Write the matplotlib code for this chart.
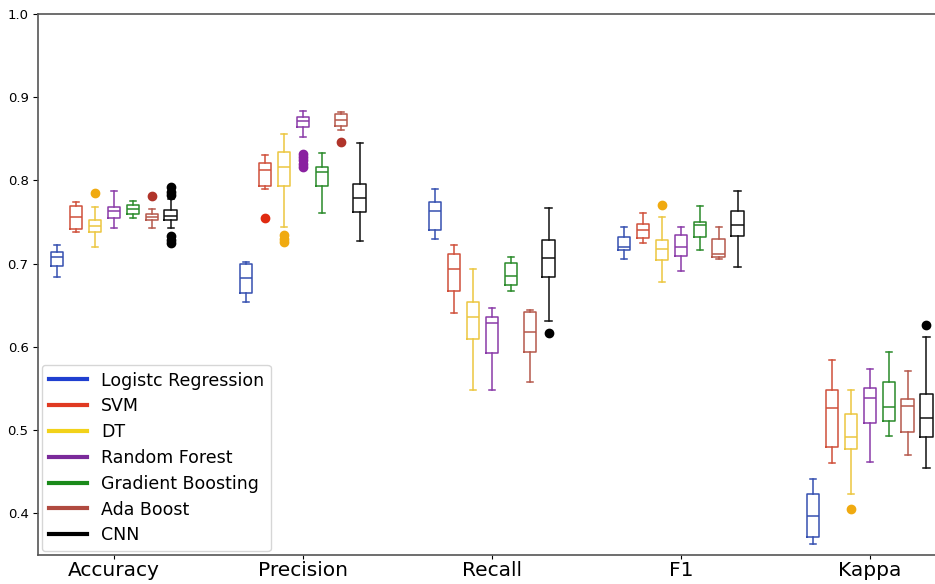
import numpy as np
import matplotlib
matplotlib.use("Agg")
import matplotlib.pyplot as plt
from matplotlib.lines import Line2D

# ---------------------------------------------------------------------------
# DATA (box statistics)
# order of each list: Accuracy, Precision, Recall, F1, Kappa
# each entry: (whislo, q1, med, q3, whishi)
# ---------------------------------------------------------------------------

metrics = ["Accuracy", "Precision", "Recall", "F1", "Kappa"]
models = ["Logistc Regression", "SVM", "DT", "Random Forest",
          "Gradient Boosting", "Ada Boost", "CNN"]

lr_stats = [(0.684, 0.697, 0.708, 0.714, 0.722),
            (0.654, 0.665, 0.683, 0.700, 0.702),
            (0.730, 0.740, 0.763, 0.774, 0.790),
            (0.706, 0.716, 0.720, 0.732, 0.744),
            (0.363, 0.371, 0.397, 0.423, 0.441)]
svm_stats = [(0.738, 0.741, 0.756, 0.769, 0.774),
             (0.790, 0.793, 0.813, 0.821, 0.831),
             (0.641, 0.667, 0.694, 0.712, 0.722),
             (0.725, 0.731, 0.740, 0.748, 0.761),
             (0.460, 0.480, 0.526, 0.548, 0.584)]
dt_stats = [(0.720, 0.738, 0.745, 0.753, 0.768),
            (0.744, 0.793, 0.816, 0.834, 0.856),
            (0.548, 0.609, 0.636, 0.654, 0.694),
            (0.678, 0.704, 0.718, 0.728, 0.756),
            (0.423, 0.477, 0.492, 0.519, 0.548)]
rf_stats = [(0.743, 0.755, 0.763, 0.768, 0.787),
            (0.852, 0.864, 0.871, 0.876, 0.883),
            (0.548, 0.593, 0.629, 0.636, 0.647),
            (0.691, 0.709, 0.720, 0.734, 0.744),
            (0.462, 0.508, 0.539, 0.550, 0.573)]
gb_stats = [(0.755, 0.760, 0.766, 0.770, 0.775),
            (0.761, 0.793, 0.810, 0.816, 0.833),
            (0.667, 0.674, 0.685, 0.701, 0.708),
            (0.716, 0.732, 0.746, 0.750, 0.769),
            (0.493, 0.511, 0.528, 0.558, 0.594)]
ada_stats = [(0.743, 0.752, 0.756, 0.760, 0.766),
             (0.861, 0.865, 0.873, 0.880, 0.882),
             (0.558, 0.594, 0.618, 0.642, 0.644),
             (0.706, 0.708, 0.712, 0.730, 0.744),
             (0.470, 0.498, 0.529, 0.537, 0.571)]
cnn_stats = [(0.743, 0.752, 0.757, 0.764, 0.778),
             (0.727, 0.762, 0.779, 0.796, 0.845),
             (0.631, 0.684, 0.707, 0.728, 0.767),
             (0.696, 0.733, 0.746, 0.763, 0.787),
             (0.454, 0.492, 0.514, 0.543, 0.612)]

# outliers per model, per metric
lr_fliers = [[], [], [], [], []]
svm_fliers = [[], [0.755], [], [], []]
dt_fliers = [[0.785], [0.734, 0.730, 0.726], [], [0.770], [0.405]]
rf_fliers = [[], [0.832, 0.828, 0.824, 0.820, 0.816], [], [], []]
gb_fliers = [[], [], [], [], []]
ada_fliers = [[0.781], [0.846], [], [], []]
cnn_fliers = [[0.792, 0.786, 0.782, 0.733, 0.728, 0.725], [], [0.617], [], [0.626]]

all_stats = [lr_stats, svm_stats, dt_stats, rf_stats, gb_stats, ada_stats, cnn_stats]
all_fliers = [lr_fliers, svm_fliers, dt_fliers, rf_fliers, gb_fliers, ada_fliers, cnn_fliers]

box_colors = ["#3550b0", "#d0503a", "#ecc640", "#8a3aa8", "#2a8a2a", "#b5584c", "#111111"]
flier_colors = ["#3550b0", "#e02a10", "#f0aa10", "#8a20a0", "#2a8a2a", "#b0342a", "#000000"]
legend_colors = ["#1f3fd0", "#e03a22", "#f2d21a", "#7a2a9a", "#1a8a1a", "#b04a40", "#000000"]

# ---------------------------------------------------------------------------
# PLOT
# ---------------------------------------------------------------------------

fig = plt.figure(figsize=(9.35, 5.84), dpi=100)
ax = fig.add_axes([0.041, 0.050, 0.959, 0.926])

offsets = (np.arange(len(models)) - 3) * 0.1
group_pos = np.arange(1, len(metrics) + 1)

for k in range(len(models)):
    bxp_stats = []
    for j in range(len(metrics)):
        lo, q1, med, q3, hi = all_stats[k][j]
        bxp_stats.append(dict(whislo=lo, q1=q1, med=med, q3=q3, whishi=hi,
                              fliers=all_fliers[k][j]))
    c = box_colors[k]
    ax.bxp(bxp_stats, positions=group_pos + offsets[k], widths=0.065,
           manage_ticks=False,
           boxprops=dict(color=c, linewidth=1.1),
           medianprops=dict(color=c, linewidth=1.1),
           whiskerprops=dict(color=c, linewidth=1.1),
           capprops=dict(color=c, linewidth=1.1),
           flierprops=dict(marker="o", markerfacecolor=flier_colors[k],
                           markeredgecolor=flier_colors[k], markersize=6))

ax.set_xlim(0.6, 5.345)
ax.set_ylim(0.35, 1.0)
ax.set_xticks(group_pos)
ax.set_xticklabels(metrics, fontsize=14.5)
ax.set_yticks([0.4, 0.5, 0.6, 0.7, 0.8, 0.9, 1.0])
ax.tick_params(axis="y", labelsize=9.5)
ax.tick_params(axis="x", pad=1.5, length=3)

for s in ["left", "top", "bottom"]:
    ax.spines[s].set_color("#555555")
    ax.spines[s].set_linewidth(1.2)
ax.spines["right"].set_visible(False)

handles = [Line2D([0], [0], color=c, linewidth=3) for c in legend_colors]
leg = ax.legend(handles, models, loc="lower left", fontsize=12.5,
                frameon=True, borderaxespad=0.2, handlelength=2.2,
                labelspacing=0.45)
leg.get_frame().set_edgecolor("#cccccc")

fig.savefig("out.png", dpi=100)
